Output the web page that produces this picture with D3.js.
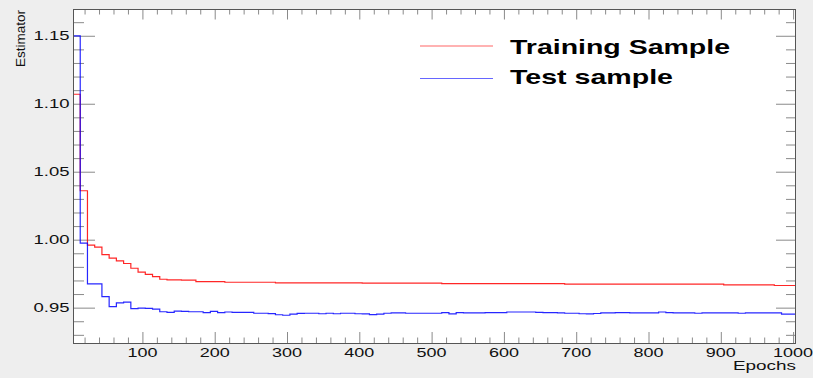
<!DOCTYPE html>
<html>
<head>
<meta charset="utf-8">
<script src="https://cdn.jsdelivr.net/npm/d3@7"></script>
<style>
  body { margin: 0; background: #eeeeee; }
  svg { display: block; font-family: "Liberation Sans", Arial, sans-serif; }
</style>
</head>
<body>
<svg id="chart" width="813" height="378"></svg>
<script>
// estimator per 10-epoch bin, 100 bins
var trainValues = [
  1.107, 1.036, 0.996, 0.9945, 0.989, 0.9864, 0.9844, 0.9825, 0.979, 0.9762,
  0.9745, 0.9729, 0.9709, 0.9704, 0.9704, 0.9703, 0.9702, 0.9692, 0.9692, 0.9692,
  0.9692, 0.9687, 0.9687, 0.9687, 0.9687, 0.9687, 0.9687, 0.9687, 0.9683, 0.9683,
  0.9683, 0.9683, 0.9683, 0.9683, 0.9683, 0.9683, 0.9683, 0.9683, 0.9683, 0.9683,
  0.968, 0.968, 0.968, 0.968, 0.968, 0.968, 0.968, 0.968, 0.968, 0.968,
  0.968, 0.9677, 0.9677, 0.9677, 0.9677, 0.9677, 0.9677, 0.9677, 0.9677, 0.9677,
  0.9677, 0.9677, 0.9677, 0.9677, 0.9677, 0.9677, 0.9677, 0.9677, 0.9673, 0.9673,
  0.9673, 0.9673, 0.9673, 0.9673, 0.9673, 0.9673, 0.9673, 0.9673, 0.9673, 0.9673,
  0.9673, 0.9673, 0.9673, 0.9673, 0.9673, 0.9673, 0.9673, 0.9673, 0.9673, 0.9673,
  0.9668, 0.9668, 0.9668, 0.9668, 0.9668, 0.9668, 0.9668, 0.9663, 0.9663, 0.9663
];
var testValues = [
  1.15, 0.9975, 0.9675, 0.9675, 0.9581, 0.9507, 0.9535, 0.954, 0.9493, 0.9497,
  0.9495, 0.9489, 0.947, 0.9466, 0.9474, 0.9472, 0.947, 0.947, 0.9463, 0.9473,
  0.9463, 0.9468, 0.9466, 0.9465, 0.9465, 0.9459, 0.9459, 0.9456, 0.9448, 0.9444,
  0.9452, 0.9458, 0.9459, 0.9459, 0.9455, 0.9459, 0.9455, 0.9459, 0.9459, 0.9455,
  0.9454, 0.9449, 0.9452, 0.9459, 0.9461, 0.9461, 0.9459, 0.9459, 0.9459, 0.9459,
  0.9459, 0.9464, 0.9454, 0.9464, 0.9461, 0.9461, 0.9461, 0.9464, 0.9464, 0.9464,
  0.9468, 0.9468, 0.9468, 0.9468, 0.9466, 0.9464, 0.9464, 0.9462, 0.9459, 0.9459,
  0.9455, 0.9454, 0.9457, 0.9461, 0.9462, 0.9464, 0.9464, 0.9462, 0.9461, 0.9461,
  0.9461, 0.9468, 0.9464, 0.9461, 0.9461, 0.9461, 0.9459, 0.9461, 0.9461, 0.9461,
  0.9461, 0.9461, 0.9459, 0.9461, 0.9461, 0.9461, 0.9461, 0.9461, 0.9452, 0.9452
];
var seriesNames = ['Training Sample', 'Test sample'];
var seriesColors = ['#ff0000', '#0000ff'];
var xTickLabels = [100, 200, 300, 400, 500, 600, 700, 800, 900, 1000];
var yTickLabels = [0.95, 1.00, 1.05, 1.10, 1.15];

var binStart = 4, binWidth = 10;
var frame = { left: 73, right: 796, top: 9, bottom: 343 };

var svg = d3.select('#chart');

svg.append('rect')
    .attr('width', 813).attr('height', 378)
    .attr('fill', '#eeeeee');
svg.append('rect')
    .attr('x', frame.left).attr('y', frame.top)
    .attr('width', frame.right - frame.left)
    .attr('height', frame.bottom - frame.top)
    .attr('fill', '#ffffff');

var x = d3.scaleLinear()
    .domain([binStart, binStart + binWidth * trainValues.length])
    .range([frame.left, frame.right]);
var y = d3.scaleLinear()
    .domain([0.924, 1.1697])
    .range([frame.bottom, frame.top]);

var xMinor = d3.range(20, 1001, 20).filter(function(d) { return d % 100 !== 0; });
var yMinor = d3.range(93, 117).map(function(d) { return d / 100; })
    .filter(function(d) { return Math.round(d * 100) % 5 !== 0; });

function styleAxis(g) {
    g.select('.domain').remove();
    g.selectAll('line').attr('stroke', '#8a8a8a');
}

// ticks on all four sides, pointing inward
function addTicks(axisFn, scale, values, size, transform) {
    svg.append('g')
        .attr('transform', transform)
        .call(axisFn(scale).tickValues(values).tickSize(-size).tickFormat(''))
        .call(styleAxis);
}
addTicks(d3.axisBottom, x, xTickLabels, 11, 'translate(0,' + frame.bottom + ')');
addTicks(d3.axisBottom, x, xMinor, 5.5, 'translate(0,' + frame.bottom + ')');
addTicks(d3.axisTop, x, xTickLabels, 10.5, 'translate(0,' + frame.top + ')');
addTicks(d3.axisTop, x, xMinor, 5.5, 'translate(0,' + frame.top + ')');
addTicks(d3.axisLeft, y, yTickLabels, 22, 'translate(' + frame.left + ',0)');
addTicks(d3.axisLeft, y, yMinor, 11, 'translate(' + frame.left + ',0)');
addTicks(d3.axisRight, y, yTickLabels, 20, 'translate(' + frame.right + ',0)');
addTicks(d3.axisRight, y, yMinor, 10, 'translate(' + frame.right + ',0)');

// tick labels (the picture is horizontally stretched, so widths are forced)
svg.append('g').selectAll('text')
    .data(xTickLabels)
    .join('text')
    .attr('x', function(d) { return x(d); })
    .attr('y', 357)
    .attr('text-anchor', 'middle')
    .attr('font-size', 12.5)
    .attr('fill', '#111')
    .attr('textLength', function(d) { return String(d).length * 10; })
    .attr('lengthAdjust', 'spacingAndGlyphs')
    .text(function(d) { return d; });

svg.append('g').selectAll('text')
    .data(yTickLabels)
    .join('text')
    .attr('x', 69.5)
    .attr('y', function(d) { return y(d) + 4.6; })
    .attr('text-anchor', 'end')
    .attr('font-size', 12.5)
    .attr('fill', '#111')
    .attr('textLength', 36)
    .attr('lengthAdjust', 'spacingAndGlyphs')
    .text(function(d) { return d.toFixed(2); });

svg.append('text')
    .attr('transform', 'translate(25,10) rotate(-90)')
    .attr('text-anchor', 'end')
    .attr('font-size', 12.5)
    .attr('fill', '#111')
    .attr('textLength', 57)
    .attr('lengthAdjust', 'spacingAndGlyphs')
    .text('Estimator');

svg.append('text')
    .attr('x', 796).attr('y', 370)
    .attr('text-anchor', 'end')
    .attr('font-size', 13.5)
    .attr('fill', '#111')
    .attr('textLength', 63)
    .attr('lengthAdjust', 'spacingAndGlyphs')
    .text('Epochs');

// histogram steps
var line = d3.line()
    .curve(d3.curveStepAfter)
    .x(function(d) { return x(d[0]); })
    .y(function(d) { return y(d[1]); });

function toSteps(values) {
    var pts = values.map(function(v, i) { return [binStart + i * binWidth, v]; });
    pts.push([binStart + values.length * binWidth, values[values.length - 1]]);
    return pts;
}

[trainValues, testValues].forEach(function(values, i) {
    svg.append('path')
        .attr('d', line(toSteps(values)))
        .attr('fill', 'none')
        .attr('stroke', seriesColors[i])
        .attr('stroke-opacity', 0.85)
        .attr('stroke-width', 1.2);
});

// frame
svg.append('rect')
    .attr('x', frame.left + 0.5).attr('y', frame.top + 0.5)
    .attr('width', frame.right - frame.left - 1)
    .attr('height', frame.bottom - frame.top)
    .attr('fill', 'none')
    .attr('stroke', '#555');

// legend
var legendY = [46, 78.5];
var legendBase = [53.5, 84];
var legendLen = [220, 163];
var legend = svg.append('g');
seriesNames.forEach(function(name, i) {
    legend.append('line')
        .attr('x1', 420).attr('x2', 493)
        .attr('y1', legendY[i]).attr('y2', legendY[i])
        .attr('stroke', seriesColors[i])
        .attr('stroke-opacity', 0.6)
        .attr('stroke-width', 1.2);
    legend.append('text')
        .attr('x', 510).attr('y', legendBase[i])
        .attr('font-size', 21)
        .attr('font-weight', 'bold')
        .attr('fill', '#000')
        .attr('textLength', legendLen[i])
        .attr('lengthAdjust', 'spacingAndGlyphs')
        .text(name);
});
</script>
</body>
</html>
